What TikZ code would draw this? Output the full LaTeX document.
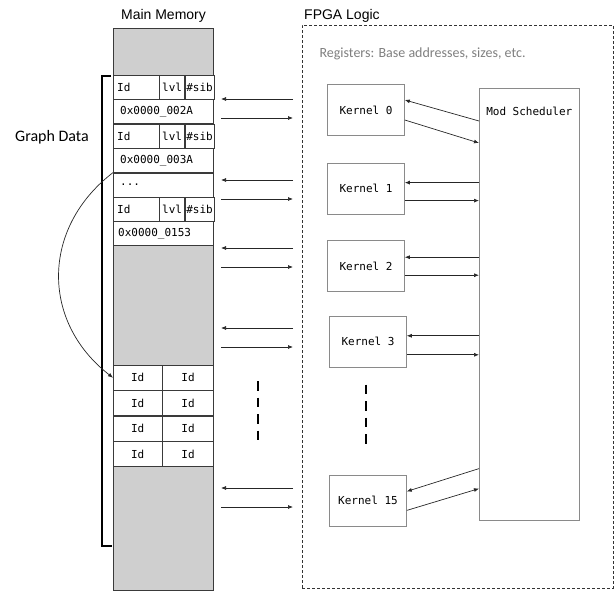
\documentclass[tikz,border=0pt]{standalone}
\usepackage{fontspec}
\setmainfont{Liberation Sans}
\setmonofont{DejaVu Sans Mono}
\newfontfamily\calfont{Carlito}
\usetikzlibrary{arrows.meta,positioning}
\definecolor{memline}{HTML}{3A3A3A}
\definecolor{memfill}{HTML}{CFCFCF}
\definecolor{kline}{HTML}{8A8A8A}
\definecolor{regtext}{HTML}{7F7F7F}

\begin{document}
\begin{tikzpicture}[x=1pt, y=-1pt,
    mono/.style={font=\ttfamily\fontsize{11}{13}\selectfont},
    cell/.style={draw=memline, fill=white, minimum height=24pt, inner sep=0pt, mono, anchor=north west},
    idc/.style={cell, text width=38pt, align=left, inner xsep=4pt},
    lvlc/.style={cell, minimum width=25pt},
    sibc/.style={cell, minimum width=29pt},
    wide/.style={cell, text width=86pt, align=left, inner xsep=7pt},
    low/.style={cell, minimum height=25pt, minimum width=#1},
    kbox/.style={draw=kline, semithick, minimum width=77pt, minimum height=51pt, mono},
    arr/.style={-{Latex[length=5pt,width=4pt]}, draw=black!85, line width=0.7pt},
    vdash/.style={line width=2.4pt, dash pattern=on 9.5pt off 7pt}
  ]
  \useasboundingbox (0,0) rectangle (616,591);
  \node[draw=memline, fill=memfill, line width=1pt, minimum width=100pt, minimum height=562pt,
        inner sep=0pt, anchor=north west] (mem) at (113,28) {};
  \node[above=2pt of mem, font=\fontsize{14}{16}\selectfont] (memtitle) {Main Memory};
  \node[idc] (r1a) at (113,75) {Id};
  \node[lvlc, right=0pt of r1a] (r1b) {lvl};
  \node[sibc, right=0pt of r1b] (r1c) {\#sib};
  \node[wide] (r2) at (r1a.south west) {0x0000\_002A};
  \node[idc] (r3a) at (r2.south west) {Id};
  \node[lvlc, right=0pt of r3a] (r3b) {lvl};
  \node[sibc, right=0pt of r3b] (r3c) {\#sib};
  \node[wide] (r4) at (r3a.south west) {0x0000\_003A};
  \node[wide] (r5) at (r4.south west) {...};
  \node[idc] (r6a) at (r5.south west) {Id};
  \node[lvlc, right=0pt of r6a] (r6b) {lvl};
  \node[sibc, right=0pt of r6b] (r6c) {\#sib};
  \node[wide, inner xsep=5pt, text width=90pt] (r7) at (r6a.south west) {0x0000\_0153};
  \node[low=49pt] (lo1a) at (113,365) {Id};
  \node[low=51pt, right=0pt of lo1a] (lo1b) {Id};
  \node[low=49pt] (lo2a) at (lo1a.south west) {Id};
  \node[low=51pt, right=0pt of lo2a] (lo2b) {Id};
  \node[low=49pt] (lo3a) at (lo2a.south west) {Id};
  \node[low=51pt, right=0pt of lo3a] (lo3b) {Id};
  \node[low=49pt] (lo4a) at (lo3a.south west) {Id};
  \node[low=51pt, right=0pt of lo4a] (lo4b) {Id};
  \draw[line width=2.4pt] (111,76) -| (102,546) -- (112,546);
  \node[font=\calfont\fontsize{16}{18}\selectfont] (gdata) at (52,137) {Graph Data};
  \draw[arr] (r4.south west) .. controls (41,228) and (41,322) .. (lo1a.west);
  \node[draw=black!80, densely dashed, minimum width=311pt, minimum height=563pt,
        inner sep=0pt, anchor=north west] (fpga) at (302,25) {};
  \node[anchor=base west, font=\fontsize{14}{16}\selectfont, inner sep=0pt] (fpgatitle) at (304,20) {FPGA Logic};
  \node[anchor=west, text=regtext, font=\calfont\fontsize{14}{16}\selectfont] (regs) at (316,54)
    {Registers: Base addresses, sizes, etc.};
  \node[kbox] (k0) at (366,110) {Kernel 0};
  \node[kbox, below=27pt of k0] (k1) {Kernel 1};
  \node[kbox, below=26pt of k1] (k2) {Kernel 2};
  \node[kbox, below=24pt of k2, xshift=2pt] (k3) {Kernel 3};
  \node[kbox, below=107pt of k3] (k15) {Kernel 15};
  \node[draw=kline, semithick, minimum width=100pt, minimum height=432pt, anchor=north west] (sched) at (479,88) {};
  \node[mono, below=16pt of sched.north] (schedlbl) {Mod Scheduler};
  \draw[arr] ([yshift=-33pt]sched.north west) -- ([yshift=10pt]k0.east);
  \draw[arr] ([yshift=-10pt]k0.east) -- ([yshift=-55pt]sched.north west);
  \draw[arr] ([yshift=6pt]sched.west |- k1.east) -- ([yshift=6pt]k1.east);
  \draw[arr] ([yshift=-12pt]k1.east) -- ([yshift=-12pt]sched.west |- k1.east);
  \draw[arr] ([yshift=9pt]sched.west |- k2.east) -- ([yshift=9pt]k2.east);
  \draw[arr] ([yshift=-9pt]k2.east) -- ([yshift=-9pt]sched.west |- k2.east);
  \draw[arr] ([yshift=6pt]sched.west |- k3.east) -- ([yshift=6pt]k3.east);
  \draw[arr] ([yshift=-13pt]k3.east) -- ([yshift=-13pt]sched.west |- k3.east);
  \draw[arr] ([yshift=52pt]sched.south west) -- ([yshift=9pt]k15.east);
  \draw[arr] ([yshift=-10pt]k15.east) -- ([yshift=32pt]sched.south west);
  \draw[vdash] ([yshift=-17pt, xshift=-2pt]k3.south) -- ([yshift=29pt, xshift=-2pt]k15.north);
  \coordinate (mdash1) at (258,381);
  \coordinate (mdash2) at (258,442);
  \draw[vdash] (mdash1) -- (mdash2);
  \foreach \yy [count=\i] in {99,180,248,328,488} {
    \coordinate (mout\i) at (221,\yy);
    \coordinate (fout\i) at (293,\yy);
    \coordinate (min\i) at (221,\yy+19);
    \coordinate (fin\i) at (293,\yy+19);
    \draw[arr] (fout\i) -- (mout\i);
    \draw[arr] (min\i) -- (fin\i);
  }
\end{tikzpicture}
\end{document}
